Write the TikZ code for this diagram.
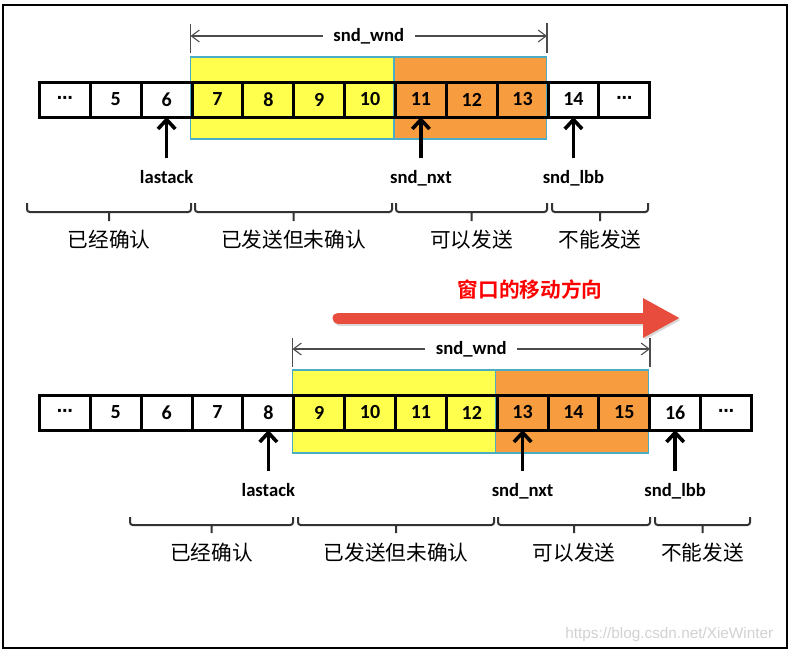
\documentclass[tikz,border=0pt]{standalone}
\usepackage{fontspec}
\setmainfont{Carlito}
\newfontfamily\cjk{Noto Sans CJK SC}[BoldFont={Noto Sans CJK SC Bold}]
\newfontfamily\sym{DejaVu Sans}
\newfontfamily\wmark{Liberation Sans}
\usetikzlibrary{matrix,positioning,arrows.meta}
\definecolor{winyellow}{RGB}{255,255,77}
\definecolor{winorange}{RGB}{248,156,64}
\definecolor{winedge}{RGB}{75,172,198}
\definecolor{movered}{RGB}{231,76,60}
\newcommand{\elip}{{\sym\fontsize{12}{12}\selectfont ⋯}}

\begin{document}
\begin{tikzpicture}[x=0.75pt, y=-0.75pt,
                    cell/.style={draw, rectangle, line width=2.25pt, inner sep=0pt, outer sep=0pt, anchor=center,
                                 minimum width=38.14pt, minimum height=26.25pt, font=\fontsize{15}{18}\selectfont\bfseries},
                    lbl/.style={inner sep=1pt, font=\fontsize{14}{16}\selectfont\bfseries},
                    part/.style={inner sep=1pt, font=\cjk\fontsize{15.5}{18}\selectfont},
                    ptr/.style={-{Straight Barb[length=7pt,width=13pt]}, line width=2.7pt, shorten <=8pt},
                    wnd/.style={{Straight Barb[length=6pt,width=9pt]}-{Straight Barb[length=6pt,width=9pt]}, draw=black!70, line width=0.8pt},
                    tick/.style={draw=black!70, line width=0.8pt},
                    brk/.style={draw=black!80, line width=1.5pt, rounded corners=2pt},
                    win/.style={draw=winedge, line width=1.2pt},
                    movearr/.style={-{Triangle[length=27.75pt,width=27.75pt]}, line width=8.25pt, line cap=round, draw=movered}]

\useasboundingbox (0,0) rectangle (789,653);
\draw[line width=1.5pt] (3,4.5) rectangle (787,647.5);

% before the move
\filldraw[win, fill=winyellow] (190.5,57) rectangle (394,139);
\filldraw[win, fill=winorange] (394,57) rectangle (546.5,139);

\matrix (row1) [column sep=-2.25pt, inner sep=0pt, outer sep=0pt, matrix anchor=west] at (38,99.5) {
\node [cell] (a1) {\elip}; & \node [cell] (a2) {5}; & \node [cell] (a3) {6}; &
\node [cell] (a4) {7}; & \node [cell] (a5) {8}; & \node [cell] (a6) {9}; & \node [cell] (a7) {10}; &
\node [cell] (a8) {11}; & \node [cell] (a9) {12}; & \node [cell] (a10) {13}; &
\node [cell] (a11) {14}; & \node [cell] (a12) {\elip}; \\};

\draw [tick] (190.5,24) -- (190.5,53) (547,23) -- (547,53);
\draw [wnd] (190.5,36) -- node[lbl, fill=white, inner xsep=8pt] (wnd1) {snd\_wnd} (547,36);

\node [lbl, below=39pt of a3] (ack1) {lastack};
\node [lbl, below=39pt of a8] (nxt1) {snd\_nxt};
\node [lbl, below=39pt of a11] (lbb1) {snd\_lbb};
\draw [ptr] (ack1) -- (a3);
\draw [ptr] (nxt1) -- (a8);
\draw [ptr] (lbb1) -- (a11);

\draw [brk] (27,203) |- (191,212) -- (191,203) (109,212) -- (109,221);
\draw [brk] (195,203) |- (392,212) -- (392,203) (293.5,212) -- (293.5,221);
\draw [brk] (396,203) |- (547,212) -- (547,203) (471.5,212) -- (471.5,221);
\draw [brk] (552,203) |- (648,212) -- (648,203) (600,212) -- (600,221);
\node [part] (done1) at (109,240) {已经确认};
\node [part] (sent1) at (293.5,240) {已发送但未确认};
\node [part] (free1) at (471.5,240) {可以发送};
\node [part] (stop1) at (600,240) {不能发送};

% the move
\node [font=\cjk\bfseries\fontsize{15.5}{18}\selectfont, text=red] (move) at (530,290) {窗口的移动方向};
\coordinate (mv0) at (338,318);
\coordinate (mv1) at (680,318);
\draw [movearr, black!15, transform canvas={xshift=1pt,yshift=-1.5pt}] (mv0) -- (mv1);
\draw [movearr] (mv0) -- (mv1);

% after the move
\filldraw[win, fill=winyellow] (292.5,370) rectangle (495.5,453);
\filldraw[win, fill=winorange] (495.5,370) rectangle (648.5,453);

\matrix (row2) [column sep=-2.25pt, inner sep=0pt, outer sep=0pt, matrix anchor=west] at (38,412.5) {
\node [cell] (b1) {\elip}; & \node [cell] (b2) {5}; & \node [cell] (b3) {6}; &
\node [cell] (b4) {7}; & \node [cell] (b5) {8}; & \node [cell] (b6) {9}; & \node [cell] (b7) {10}; &
\node [cell] (b8) {11}; & \node [cell] (b9) {12}; & \node [cell] (b10) {13}; &
\node [cell] (b11) {14}; & \node [cell] (b12) {15}; & \node [cell] (b13) {16}; &
\node [cell] (b14) {\elip}; \\};

\draw [tick] (292.5,338) -- (292.5,367) (650,338) -- (650,367);
\draw [wnd] (292.5,349) -- node[lbl, fill=white, inner xsep=8pt] (wnd2) {snd\_wnd} (650,349);

\node [lbl, below=39pt of b5] (ack2) {lastack};
\node [lbl, below=39pt of b10] (nxt2) {snd\_nxt};
\node [lbl, below=39pt of b13] (lbb2) {snd\_lbb};
\draw [ptr] (ack2) -- (b5);
\draw [ptr] (nxt2) -- (b10);
\draw [ptr] (lbb2) -- (b13);

\draw [brk] (130,517) |- (293,525) -- (293,517) (211.5,525) -- (211.5,533);
\draw [brk] (298,517) |- (494,525) -- (494,517) (396,525) -- (396,533);
\draw [brk] (498,517) |- (650,525) -- (650,517) (574,525) -- (574,533);
\draw [brk] (655,517) |- (750,525) -- (750,517) (702.5,525) -- (702.5,533);
\node [part] (done2) at (211.5,553) {已经确认};
\node [part] (sent2) at (396,553) {已发送但未确认};
\node [part] (free2) at (574,553) {可以发送};
\node [part] (stop2) at (702.5,553) {不能发送};

\node [font=\wmark\fontsize{11.5}{13}\selectfont, text=black!18, anchor=east] (mark) at (778,635) {https://blog.csdn.net/XieWinter};

\end{tikzpicture}
\end{document}
